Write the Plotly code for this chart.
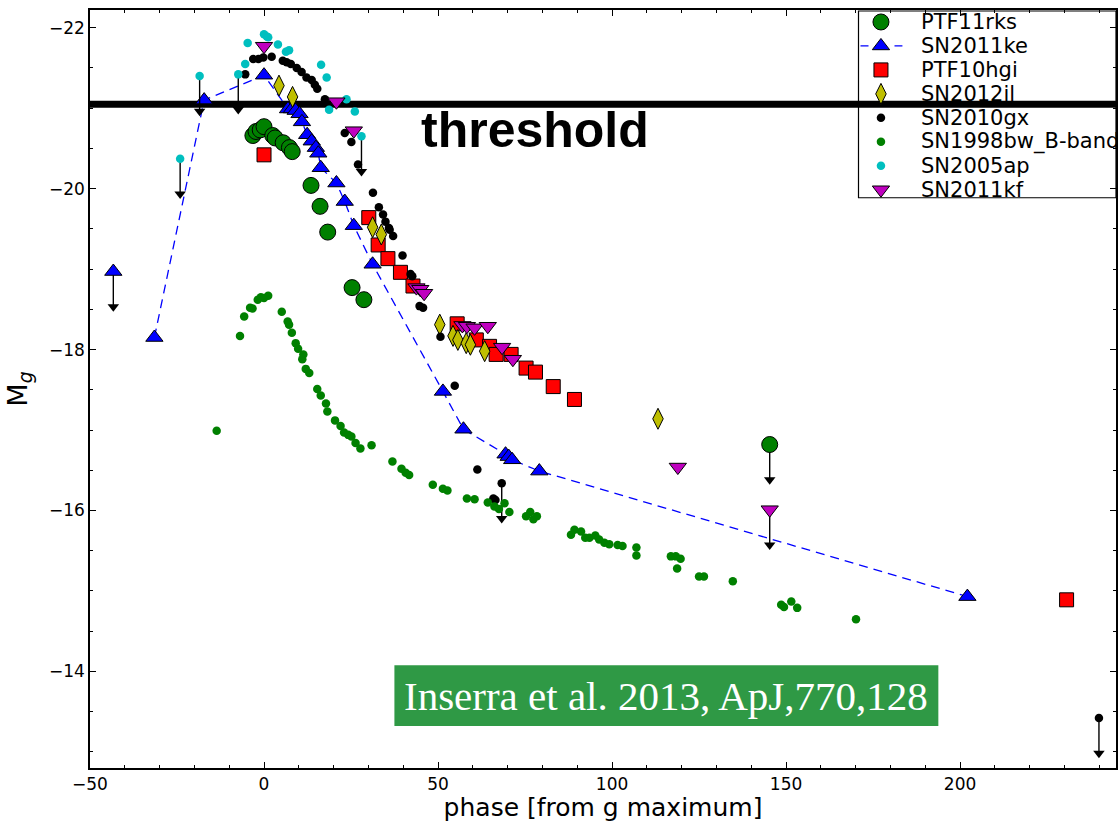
import plotly.graph_objects as go

# ---------------- light-curve data (phase in days from g max, absolute mag) ----------------
ptf11rks_phase = [-3.2, -2.3, -1.1, 0.0, 2.5, 3.2, 5.5, 7.3, 8.1, 13.5, 16.1, 18.3, 25.3, 28.7]
ptf11rks_mag = [-20.66, -20.71, -20.73, -20.77, -20.66, -20.63, -20.57, -20.51, -20.46,
                -20.04, -19.78, -19.46, -18.77, -18.62]
ptf11rks_lim_phase = [145.3]
ptf11rks_lim_mag = [-16.82]

sn2011ke_phase = [-31.5, -17.2, 0.0, 6.9, 8.0, 9.1, 10.2, 10.9, 12.4, 13.7, 14.9, 15.6, 16.3,
                  20.8, 23.2, 25.8, 31.2, 51.4, 57.3, 69.4, 70.3, 71.3, 79.1, 202.1]
sn2011ke_mag = [-18.15, -21.10, -21.41, -20.99, -20.99, -20.97, -20.93, -20.83, -20.67, -20.59,
                -20.51, -20.44, -20.26, -20.07, -19.84, -19.54, -19.06, -17.48, -17.01, -16.70,
                -16.67, -16.63, -16.49, -14.93]
sn2011ke_lim_phase = [-43.3]
sn2011ke_lim_mag = [-18.97]

ptf10hgi_phase = [0.0, 30.1, 32.8, 35.6, 39.2, 42.8, 55.5, 61.0, 64.8, 66.7, 71.0, 75.3, 78.0,
                  83.1, 89.2, 230.6]
ptf10hgi_mag = [-20.42, -19.64, -19.30, -19.13, -18.96, -18.79, -18.32, -18.12, -18.04, -17.94,
                -17.94, -17.77, -17.72, -17.54, -17.38, -14.89]

sn2012il_phase = [4.3, 8.2, 31.2, 33.7, 50.5, 54.3, 55.7, 58.1, 59.3, 63.4, 113.2]
sn2012il_mag = [-21.28, -21.14, -19.52, -19.43, -18.31, -18.17, -18.12, -18.08, -18.06, -17.98,
                -17.14]

sn2010gx_phase = [-5.4, -3.1, -1.6, -0.2, 2.2, 5.4, 6.5, 7.7, 9.4, 10.8, 12.2, 13.7, 14.6, 15.3,
                  17.5, 23.2, 25.1, 27.0, 31.3, 33.0, 34.2, 34.9, 35.9, 36.1, 37.1, 39.8, 42.1,
                  42.6, 44.7, 45.7, 50.7, 54.8, 61.3, 65.9, 66.5]
sn2010gx_mag = [-21.42, -21.61, -21.61, -21.63, -21.64, -21.59, -21.57, -21.55, -21.50, -21.45,
                -21.38, -21.35, -21.29, -21.24, -21.11, -20.69, -20.58, -20.30, -19.95, -19.77,
                -19.68, -19.59, -19.51, -19.49, -19.41, -19.17, -18.94, -18.91, -18.54, -18.52,
                -18.16, -17.55, -16.51, -16.15, -16.13]
sn2010gx_lim_phase = [68.3, 239.9]
sn2010gx_lim_mag = [-16.34, -13.42]

sn1998bw_phase = [-13.6, -6.9, -5.7, -4.0, -3.3, -1.8, -0.9, 0.0, 1.2, 5.1, 6.8, 7.2, 8.0, 9.1,
                  9.8, 11.0, 11.3, 12.0, 13.0, 15.3, 16.3, 17.8, 18.2, 20.4, 22.0, 23.0, 24.2,
                  25.1, 26.3, 27.7, 30.9, 36.9, 39.5, 40.7, 41.7, 48.5, 51.4, 52.7, 58.3, 60.5,
                  64.3, 66.2, 67.5, 69.1, 70.5, 75.3, 76.5, 77.4, 78.4, 88.2, 89.2, 91.1, 92.3,
                  93.5, 95.2, 96.3, 97.8, 99.2, 101.6, 103.0, 107.0, 107.0, 116.9, 118.3, 119.7,
                  118.7, 125.0, 126.4, 134.7, 148.6, 149.4, 151.5, 153.2, 170.1]
sn1998bw_mag = [-16.99, -18.17, -18.41, -18.52, -18.51, -18.62, -18.65, -18.64, -18.67, -18.47,
                -18.35, -18.31, -18.21, -18.08, -18.01, -17.88, -17.94, -17.76, -17.71, -17.51,
                -17.43, -17.33, -17.23, -17.12, -17.05, -16.97, -16.94, -16.92, -16.84, -16.77,
                -16.81, -16.61, -16.52, -16.47, -16.44, -16.32, -16.27, -16.25, -16.15, -16.14,
                -16.10, -16.05, -16.02, -16.09, -15.98, -15.93, -15.98, -15.89, -15.93, -15.70,
                -15.76, -15.74, -15.66, -15.66, -15.69, -15.64, -15.60, -15.58, -15.57, -15.56,
                -15.54, -15.44, -15.43, -15.43, -15.40, -15.28, -15.18, -15.18, -15.12, -14.83,
                -14.80, -14.87, -14.79, -14.65]

sn2005ap_phase = [-5.4, -4.7, 0.0, 0.8, 1.2, 4.0, 6.3, 7.2, 16.4, 18.0, 18.7, 23.7, 26.1]
sn2005ap_mag = [-21.55, -21.81, -21.92, -21.89, -21.88, -21.79, -21.70, -21.72, -21.54, -21.38,
                -20.98, -21.11, -20.96]
sn2005ap_lim_phase = [-24.1, -18.5, -7.4, 28.0]
sn2005ap_lim_mag = [-20.37, -21.40, -21.42, -20.65]

sn2011kf_phase = [0.0, 20.8, 25.8, 43.8, 44.9, 46.0, 57.0, 58.3, 60.5, 64.3, 68.4, 71.5, 118.9]
sn2011kf_mag = [-21.77, -21.08, -20.72, -18.77, -18.75, -18.70, -18.30, -18.29, -18.27, -18.29,
                -18.03, -17.88, -16.54]
sn2011kf_lim_phase = [145.3]
sn2011kf_lim_mag = [-16.01]

THRESHOLD_MAG = -21.05
LIMIT_DROP = 0.5  # length of the upper-limit arrows, in mag

x_tick_vals = [-50, 0, 50, 100, 150, 200]
y_tick_vals = [-22, -20, -18, -16, -14]

# ---------------- axes geometry ----------------
X_RANGE = [-50, 244.8]
Y_RANGE = [-12.8, -22.22]
FIG_W, FIG_H = 1120, 822
MARGIN = dict(l=90, r=2, t=10, b=53)
PLOT_W = FIG_W - MARGIN["l"] - MARGIN["r"]
PLOT_H = FIG_H - MARGIN["t"] - MARGIN["b"]
MAG_PER_PX = abs(Y_RANGE[0] - Y_RANGE[1]) / PLOT_H
HEAD_SIZE = 10  # arrow-head marker size in px


def paper_x(px):
    return (px - MARGIN["l"]) / PLOT_W


def paper_y(py):
    return 1 - (py - MARGIN["t"]) / PLOT_H


def axis_x(px):
    return X_RANGE[0] + paper_x(px) * (X_RANGE[1] - X_RANGE[0])


def axis_y(py):
    return Y_RANGE[0] + paper_y(py) * (Y_RANGE[1] - Y_RANGE[0])


def tick_label(v):
    # typographic minus for negative tick values
    return ("\u2212" if v < 0 else "") + str(abs(v))


# ---------------- marker styles ----------------
styles = {
    "PTF11rks": dict(symbol="circle", color="#008000", size=16, edge=1.0),
    "SN2011ke": dict(symbol="triangle-up", color="#0000ff", size=15, edge=1.0),
    "PTF10hgi": dict(symbol="square", color="#ff0000", size=14, edge=1.0),
    "SN2012il": dict(symbol="diamond-tall", color="#bfbf00", size=15, edge=1.0),
    "SN2010gx": dict(symbol="circle", color="#000000", size=8.5, edge=0),
    "SN1998bw_B-band": dict(symbol="circle", color="#008000", size=8.5, edge=0),
    "SN2005ap": dict(symbol="circle", color="#00bfbf", size=8.5, edge=0),
    "SN2011kf": dict(symbol="triangle-down", color="#bf00bf", size=15, edge=1.0),
}

series = [
    ("PTF11rks", ptf11rks_phase, ptf11rks_mag, ptf11rks_lim_phase, ptf11rks_lim_mag),
    ("SN2011ke", sn2011ke_phase, sn2011ke_mag, sn2011ke_lim_phase, sn2011ke_lim_mag),
    ("PTF10hgi", ptf10hgi_phase, ptf10hgi_mag, [], []),
    ("SN2012il", sn2012il_phase, sn2012il_mag, [], []),
    ("SN2010gx", sn2010gx_phase, sn2010gx_mag, sn2010gx_lim_phase, sn2010gx_lim_mag),
    ("SN1998bw_B-band", sn1998bw_phase, sn1998bw_mag, [], []),
    ("SN2005ap", sn2005ap_phase, sn2005ap_mag, sn2005ap_lim_phase, sn2005ap_lim_mag),
    ("SN2011kf", sn2011kf_phase, sn2011kf_mag, sn2011kf_lim_phase, sn2011kf_lim_mag),
]


def marker_of(name):
    s = styles[name]
    return dict(symbol=s["symbol"], color=s["color"], size=s["size"],
                line=dict(color="black", width=s["edge"]))


fig = go.Figure()

for name, ph, mag, lph, lmag in series:
    if name == "SN2011ke":
        fig.add_trace(go.Scatter(x=ph, y=mag, mode="lines+markers", name=name, showlegend=False,
                                 line=dict(color="#0000ff", width=1.3, dash="9px,6px"),
                                 marker=marker_of(name)))
    else:
        fig.add_trace(go.Scatter(x=ph, y=mag, mode="markers", name=name, showlegend=False,
                                 marker=marker_of(name)))
    if lph:
        # upper limits: a black shaft dropping LIMIT_DROP mag, ending in a filled head
        tip = [m + LIMIT_DROP for m in lmag]
        head_centre = [t - (HEAD_SIZE / 2) * MAG_PER_PX for t in tip]
        shaft_x, shaft_y = [], []
        for x, m, h in zip(lph, lmag, head_centre):
            shaft_x += [x, x, None]
            shaft_y += [m, h, None]
        fig.add_trace(go.Scatter(x=shaft_x, y=shaft_y, mode="lines", showlegend=False,
                                 hoverinfo="skip", line=dict(color="black", width=1.4)))
        fig.add_trace(go.Scatter(x=lph, y=head_centre, mode="markers", showlegend=False,
                                 hoverinfo="skip",
                                 marker=dict(symbol="triangle-down", color="black",
                                             size=HEAD_SIZE, line=dict(width=0))))
        fig.add_trace(go.Scatter(x=lph, y=lmag, mode="markers", name=name + " (limit)",
                                 showlegend=False, marker=marker_of(name)))

annotations = []

# ---------------- hand-built legend box in the upper-right corner ----------------
LEG_SYMBOL_X, LEG_TEXT_X, LEG_TOP, LEG_STEP = 882.5, 921, 22, 24
for i, (name, *_rest) in enumerate(series):
    row_y = LEG_TOP + LEG_STEP * i
    if name == "SN2011ke":
        fig.add_trace(go.Scatter(x=[axis_x(862), axis_x(904)], y=[axis_y(row_y)] * 2,
                                 mode="lines", showlegend=False, hoverinfo="skip",
                                 line=dict(color="#0000ff", width=1.3, dash="8px,26px")))
    fig.add_trace(go.Scatter(x=[axis_x(LEG_SYMBOL_X)], y=[axis_y(row_y)], mode="markers",
                             showlegend=False, hoverinfo="skip", marker=marker_of(name)))
    annotations.append(dict(x=paper_x(LEG_TEXT_X), y=paper_y(row_y), xref="paper",
                            yref="paper", text=name, showarrow=False, xanchor="left",
                            yanchor="middle",
                            font=dict(family="DejaVu Sans", size=21, color="black")))

annotations.append(dict(x=paper_x(536), y=paper_y(130), xref="paper", yref="paper",
                        text="<b>threshold</b>", showarrow=False, xanchor="center",
                        yanchor="middle",
                        font=dict(family="Liberation Sans", size=50, color="black")))
annotations.append(dict(x=paper_x(667.5), y=paper_y(697), xref="paper", yref="paper",
                        text="Inserra et al. 2013, ApJ,770,128", showarrow=False,
                        xanchor="center", yanchor="middle",
                        font=dict(family="Liberation Serif", size=41, color="white")))

shapes = [
    dict(type="line", xref="paper", x0=0, x1=1, yref="y", y0=THRESHOLD_MAG, y1=THRESHOLD_MAG,
         line=dict(color="black", width=7), layer="below"),
    dict(type="rect", xref="paper", yref="paper", x0=paper_x(860), x1=paper_x(1118),
         y0=paper_y(11), y1=paper_y(198),
         line=dict(color="black", width=1.2), fillcolor="rgba(0,0,0,0)", layer="above"),
    dict(type="rect", xref="paper", yref="paper", x0=paper_x(395), x1=paper_x(940),
         y0=paper_y(666), y1=paper_y(727),
         line=dict(width=0), fillcolor="#2f9945", layer="above"),
]

axis_common = dict(showgrid=False, zeroline=False, showline=True, linecolor="black",
                   linewidth=1.5, mirror="allticks", ticks="inside", ticklen=6, tickwidth=1,
                   tickcolor="black")

fig.update_layout(
    width=FIG_W, height=FIG_H,
    margin=MARGIN,
    plot_bgcolor="white", paper_bgcolor="white",
    font=dict(family="DejaVu Sans", color="black"),
    showlegend=False,
    annotations=annotations,
    shapes=shapes,
    xaxis=dict(range=X_RANGE, tickmode="array", tickvals=x_tick_vals,
               ticktext=[tick_label(v) for v in x_tick_vals],
               minor=dict(tickmode="linear", tick0=0, dtick=10, ticklen=3.5, ticks="inside",
                          tickcolor="black"),
               tickfont=dict(size=17),
               title=dict(text="phase [from g maximum]", font=dict(size=25), standoff=8),
               **axis_common),
    yaxis=dict(range=Y_RANGE, tickmode="array", tickvals=y_tick_vals,
               ticktext=[tick_label(v) for v in y_tick_vals],
               minor=dict(tickmode="linear", tick0=0, dtick=0.5, ticklen=3.5, ticks="inside",
                          tickcolor="black"),
               tickfont=dict(size=17),
               title=dict(text="M<sub><i>g</i></sub>", font=dict(size=27), standoff=14),
               **axis_common),
)

fig.write_html("out.html")
